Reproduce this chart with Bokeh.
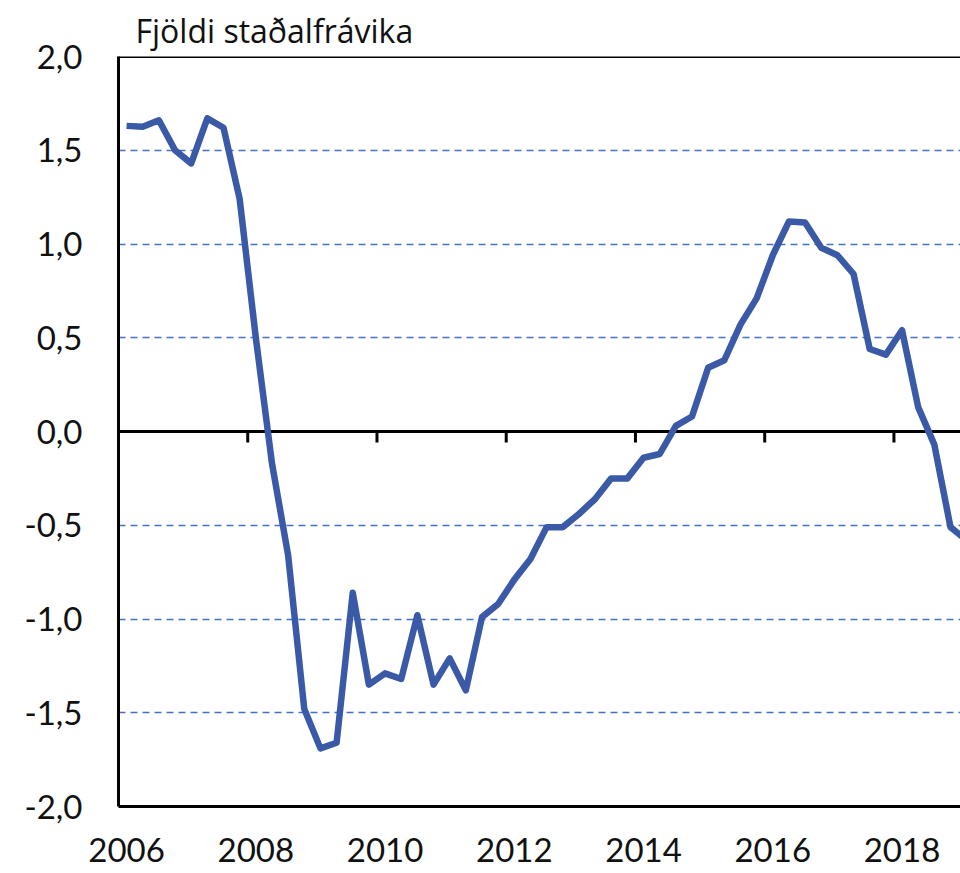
from bokeh.plotting import figure
from bokeh.models import LinearAxis, FixedTicker, Span, ColumnDataSource
from bokeh.embed import file_html
from bokeh.resources import INLINE

# ---- data (quarterly, from 2006Q1) ----
start_year = 2006
values = [
    1.63, 1.625, 1.66, 1.50,      # 2006
    1.43, 1.67, 1.62, 1.24,       # 2007
    0.50, -0.17, -0.66, -1.48,    # 2008
    -1.69, -1.66, -0.86, -1.35,   # 2009
    -1.29, -1.32, -0.98, -1.35,   # 2010
    -1.21, -1.38, -0.99, -0.92,   # 2011
    -0.79, -0.68, -0.51, -0.51,   # 2012
    -0.44, -0.36, -0.25, -0.25,   # 2013
    -0.14, -0.12, 0.03, 0.08,     # 2014
    0.34, 0.38, 0.57, 0.71,       # 2015
    0.94, 1.12, 1.115, 0.98,      # 2016
    0.94, 0.84, 0.44, 0.41,       # 2017
    0.54, 0.13, -0.07, -0.51,     # 2018
    -0.58,                        # 2019
]
x_tick_years = [2006, 2008, 2010, 2012, 2014, 2016, 2018]
x_tick_labels = ["2006", "2008", "2010", "2012", "2014", "2016", "2018"]
zero_tick_years = [2008, 2010, 2012, 2014, 2016, 2018]
y_ticks = [-2.0, -1.5, -1.0, -0.5, 0.0, 0.5, 1.0, 1.5, 2.0]
y_tick_labels = ["-2,0", "-1,5", "-1,0", "-0,5", "0,0", "0,5", "1,0", "1,5", "2,0"]
grid_levels = [-1.5, -1.0, -0.5, 0.5, 1.0, 1.5]
title_text = "Fjöldi staðalfrávika"

Y_MIN, Y_MAX = -2.0, 2.0
X_MIN, X_MAX = 2006, 2019.03

W, H = 960, 873
FRAME_LEFT, FRAME_TOP = 118, 56
FRAME_H = 750
TICK_PX = 11

xs = [start_year + (i + 0.5) / 4 for i in range(len(values))]
src = ColumnDataSource(data=dict(x=xs, y=values))

FONT = "Lato"
BLUE = "#3A5AA8"
GRID = "#4472C4"
TXT = "#111111"

p = figure(width=W, height=H, x_range=(X_MIN, X_MAX), y_range=(Y_MIN, Y_MAX),
           output_backend="svg", toolbar_location=None, x_axis_location=None,
           y_axis_location=None, min_border_left=FRAME_LEFT, min_border_right=0,
           min_border_top=FRAME_TOP, min_border_bottom=H - FRAME_TOP - FRAME_H)
p.outline_line_color = None
p.background_fill_color = "white"
p.border_fill_color = "white"

p.title.text = title_text
p.title.text_font = "Open Sans"
p.title.text_font_size = "32px"
p.title.text_font_style = "normal"
p.title.text_color = TXT
p.title.align = "left"
p.title.offset = 17
p.title.standoff = 10

# grid
p.xgrid.visible = False
p.ygrid.ticker = FixedTicker(ticks=grid_levels)
p.ygrid.grid_line_color = GRID
p.ygrid.grid_line_width = 1.3
p.ygrid.grid_line_dash = "7 5"

# left axis
yax = LinearAxis(ticker=FixedTicker(ticks=y_ticks))
yax.major_label_overrides = {t: l for t, l in zip(y_ticks, y_tick_labels)}
yax.major_tick_out = 0
yax.major_tick_in = 0
yax.minor_tick_out = 0
yax.minor_tick_in = 0
yax.axis_line_width = 3
yax.axis_line_color = "black"
yax.major_label_standoff = 36
yax.major_label_text_font = FONT
yax.major_label_text_font_size = "33px"
yax.major_label_text_color = TXT
p.add_layout(yax, "left")

# bottom axis: frame line + year labels centred on each year's first quarter
lab_pos = [y + 0.125 for y in x_tick_years]
xax = LinearAxis(ticker=FixedTicker(ticks=lab_pos))
xax.major_label_overrides = {t: l for t, l in zip(lab_pos, x_tick_labels)}
xax.major_tick_out = 0
xax.major_tick_in = 0
xax.minor_tick_out = 0
xax.minor_tick_in = 0
xax.axis_line_width = 3
xax.axis_line_color = "black"
xax.major_label_standoff = 31
xax.major_label_text_font = FONT
xax.major_label_text_font_size = "33px"
xax.major_label_text_color = TXT
p.add_layout(xax, "below")

# top border and zero line
p.add_layout(Span(location=Y_MAX, dimension="width", line_color="black", line_width=3))
p.add_layout(Span(location=0, dimension="width", line_color="black", line_width=3,
                  level="underlay"))

# tick marks hanging from the zero line
tick_len = TICK_PX * (Y_MAX - Y_MIN) / FRAME_H
p.segment(x0=zero_tick_years, y0=[0] * len(zero_tick_years),
          x1=zero_tick_years, y1=[-tick_len] * len(zero_tick_years),
          line_color="black", line_width=3)

p.line("x", "y", source=src, line_color=BLUE, line_width=6.5, line_join="round")

open("out.html", "w").write(file_html(p, INLINE))
